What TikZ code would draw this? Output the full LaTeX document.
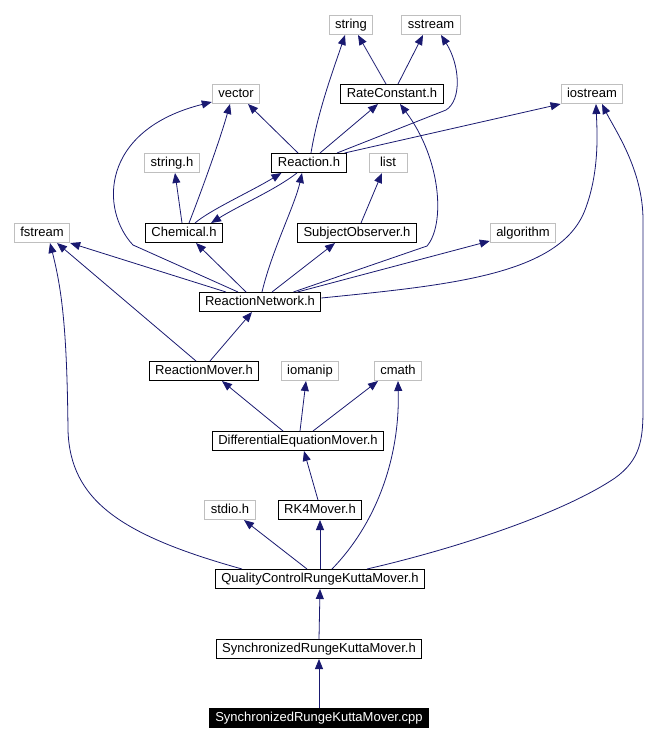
\documentclass[tikz,border=0pt]{standalone}
\usepackage{fontspec}
\setmainfont{Liberation Sans}
\usepackage{xcolor}
\usetikzlibrary{arrows.meta}

\definecolor{edgeblue}{RGB}{25,25,112}
\definecolor{extgray}{RGB}{191,191,191}

\begin{document}
\begin{tikzpicture}[
  x=1pt, y=-1pt,
  hdr/.style={draw=extgray, line width=1pt, inner xsep=6pt, inner ysep=0pt, minimum height=19pt, minimum width=38pt, text height=9.5pt, text depth=2.5pt, font=\fontsize{13}{15}\selectfont},
  file/.style={hdr, draw=black},
  srcfile/.style={hdr, draw=black, fill=black, text=white},
  arrow/.style={-{Triangle[length=10pt,width=8pt]}, edgeblue, line width=0.8pt}
]
\useasboundingbox (0,0) rectangle (670,742);

% === Headers, top to bottom ===
\node[hdr] (str) at (351,25) {string};
\node[hdr] (sstr) at (431,25) {sstream};

\node[hdr] (vec) at (236,94) {vector};
\node[file] (rate) at (392,94) {RateConstant.h};
\node[hdr] (ios) at (592,94) {iostream};

\node[hdr] (strh) at (172,163) {string.h};
\node[file] (react) at (309,163) {Reaction.h};
\node[hdr] (lst) at (388,163) {list};

\node[hdr] (fstr) at (42,233) {fstream};
\node[file] (chem) at (184,233) {Chemical.h};
\node[file] (subj) at (357,233) {SubjectObserver.h};
\node[hdr] (algo) at (523,233) {algorithm};

\node[file] (net) at (260,302) {ReactionNetwork.h};

\node[file] (mover) at (204,371) {ReactionMover.h};
\node[hdr] (iomp) at (310,371) {iomanip};
\node[hdr] (cmth) at (398,371) {cmath};

\node[file] (diffeq) at (298,441) {DifferentialEquationMover.h};

\node[hdr] (stdio) at (230,510) {stdio.h};
\node[file] (rk4) at (320,510) {RK4Mover.h};

\node[file] (qc) at (320,579) {QualityControlRungeKuttaMover.h};
\node[file] (srkh) at (319,649) {SynchronizedRungeKuttaMover.h};
\node[srcfile] (srkcpp) at (319,718) {SynchronizedRungeKuttaMover.cpp};

% === RateConstant.h ===
\draw[arrow] ([xshift=-6pt]rate.north) -- ([xshift=7pt]str.south);
\draw[arrow] ([xshift=6pt]rate.north) -- ([xshift=-8pt]sstr.south);

% === Reaction.h ===
\draw[arrow] ([xshift=2pt]react.north) .. controls (318,110) and (335,65) .. ([xshift=-6pt]str.south);
\draw[arrow] ([xshift=28pt]react.north) -- (446,110) .. controls (462,100) and (460,65) .. ([xshift=10pt]sstr.south);
\draw[arrow] ([xshift=-11pt]react.north) -- ([xshift=12pt]vec.south);
\draw[arrow] ([xshift=11pt]react.north) -- ([xshift=-14pt]rate.south);
\draw[arrow] ([xshift=-2pt]react.north east) -- (ios.south west);
\draw[arrow] ([xshift=-12pt]react.south) .. controls (275,190) and (240,205) .. ([xshift=-12pt]chem.north east);

% === Chemical.h ===
\draw[arrow] ([xshift=-2pt]chem.north) -- ([xshift=3pt]strh.south);
\draw[arrow] ([xshift=5pt]chem.north) .. controls (200,195) and (220,140) .. ([xshift=-6pt]vec.south);
\draw[arrow] ([xshift=11pt]chem.north) .. controls (210,210) and (250,192) .. ([xshift=10pt]react.south west);

% === SubjectObserver.h ===
\draw[arrow] ([xshift=4pt]subj.north) -- ([xshift=-6pt]lst.south);

% === ReactionNetwork.h ===
\draw[arrow] ([xshift=-22pt]net.north) -- (133,245) .. controls (100,210) and (100,130) .. ([yshift=2pt]vec.south west);
\draw[arrow] ([xshift=-34pt]net.north) -- (fstr.south east);
\draw[arrow] ([xshift=-14pt]net.north) -- ([xshift=12pt]chem.south);
\draw[arrow] ([xshift=2pt]net.north) .. controls (272,250) and (295,205) .. ([xshift=-7pt]react.south);
\draw[arrow] ([xshift=12pt]net.north) -- ([xshift=-22pt]subj.south);
\draw[arrow] ([xshift=-28pt]net.north east) -- (427,246) .. controls (445,225) and (442,160) .. ([xshift=8pt]rate.south);
\draw[arrow] ([xshift=-24pt]net.north east) -- ([yshift=2pt]algo.south west);
\draw[arrow] ([yshift=4pt]net.east) .. controls (450,285) and (560,275) .. (585,210) .. controls (600,171) and (597,130) .. ([xshift=4pt]ios.south);

% === ReactionMover.h ===
\draw[arrow] ([xshift=-8pt]mover.north) -- ([xshift=15pt]fstr.south);
\draw[arrow] ([xshift=6pt]mover.north) -- ([xshift=-8pt]net.south);

% === DifferentialEquationMover.h ===
\draw[arrow] ([xshift=-15pt]diffeq.north) -- ([xshift=18pt]mover.south);
\draw[arrow] ([xshift=2pt]diffeq.north) -- ([xshift=-4pt]iomp.south);
\draw[arrow] ([xshift=15pt]diffeq.north) -- ([xshift=-20pt]cmth.south);

% === RK4Mover.h ===
\draw[arrow] ([xshift=-2pt]rk4.north) -- ([xshift=6pt]diffeq.south);

% === QualityControlRungeKuttaMover.h ===
\draw[arrow] ([xshift=-78pt]qc.north) .. controls (120,535) and (70,500) .. (68,430) .. controls (67,330) and (62,290) .. ([xshift=8pt]fstr.south);
\draw[arrow] ([xshift=-13pt]qc.north) -- ([xshift=14pt]stdio.south);
\draw[arrow] (qc.north) -- (rk4.south);
\draw[arrow] ([xshift=12pt]qc.north) .. controls (375,525) and (400,460) .. (cmth.south);
\draw[arrow] ([xshift=47pt]qc.north) .. controls (450,550) and (560,515) .. (615,478) .. controls (640,460) and (643,440) .. (643,410) -- (643,220) .. controls (643,170) and (615,130) .. ([xshift=10pt]ios.south);

% === Synchronized files ===
\draw[arrow] (srkh.north) -- (qc.south);
\draw[arrow] (srkcpp.north) -- (srkh.south);

\end{tikzpicture}
\end{document}
